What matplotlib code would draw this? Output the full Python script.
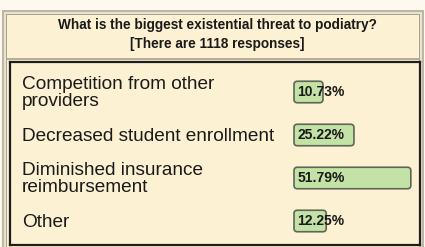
import matplotlib.pyplot as plt
from matplotlib.patches import FancyBboxPatch, Rectangle

title = "What is the biggest existential threat to podiatry?"
subtitle = "[There are 1118 responses]"
answers = ["Competition from other\nproviders",
           "Decreased student enrollment",
           "Diminished insurance\nreimbursement",
           "Other"]
percents = [10.73, 25.22, 51.79, 12.25]

W, H = 425, 247
beige = "#fcf1d2"
green = "#c3e2a5"

plt.rcParams['font.family'] = ['Liberation Sans', 'DejaVu Sans']

fig = plt.figure(figsize=(W / 100, H / 100), dpi=100)
fig.patch.set_facecolor("#fdf9ee")

# outer panel (pixel boxes, top-left origin), kept under the axes
def px_rect(x0, y0, x1, y1, **kw):
    fig.patches.append(Rectangle((x0 / W, 1 - y1 / H), (x1 - x0) / W, (y1 - y0) / H,
                                 transform=fig.transFigure, zorder=-5, **kw))

px_rect(2, 10, 424, 250, facecolor="#bdb6a0", edgecolor="none")
px_rect(4, 12, 422, 250, facecolor="#e8e2cf", edgecolor="none")
px_rect(6, 14, 420, 250, facecolor="#aaa48f", edgecolor="none")
px_rect(7, 15, 419, 250, facecolor=beige, edgecolor="none")
px_rect(7, 58, 419, 60, facecolor="#b5ae98", edgecolor="none")

fig.text(217 / W, 1 - 25 / H, title, ha="center", va="center",
         fontsize=9.8, fontweight="bold", color="#1a1a1a")
fig.text(217 / W, 1 - 44 / H, subtitle, ha="center", va="center",
         fontsize=9.8, fontweight="bold", color="#1a1a1a")

# inner box with bars
ax = fig.add_axes([10 / W, 1 - 245 / H, 410 / W, 183 / H])
ax.set_facecolor(beige)
for s in ax.spines.values():
    s.set_linewidth(1.6)
    s.set_color("#1e1e1e")
ax.set_xticks([])
ax.set_yticks([])

xs = 2.14  # px per percent
ys = 43.0  # px per row
x0px = 287
ax.set_xlim(-x0px / xs, (410 - x0px) / xs)
ax.set_ylim((183 - 30) / ys, -30 / ys)

rows = list(range(len(answers)))
bars = ax.barh(rows, percents, height=0.5, color="none")
pad = 3 / xs
for b in bars:
    b.set_visible(False)
    ax.add_patch(FancyBboxPatch((b.get_x() - pad, b.get_y()), b.get_width() + 2 * pad, b.get_height(),
                                boxstyle="round,pad=0,rounding_size=1.6",
                                mutation_aspect=xs / ys,
                                facecolor=green, edgecolor="#5f6656", linewidth=1.2))

for r, lab, v in zip(rows, answers, percents):
    ax.text(12 / 410, r + 0.03, lab, transform=ax.get_yaxis_transform(),
            ha="left", va="center", fontsize=13.7, color="#1a1a1a", linespacing=1.02)
    ax.text(0.2, r, f"{v:.2f}%", ha="left", va="center",
            fontsize=10, fontweight="bold", color="#1a1a1a")

fig.savefig("out.png", dpi=100)
